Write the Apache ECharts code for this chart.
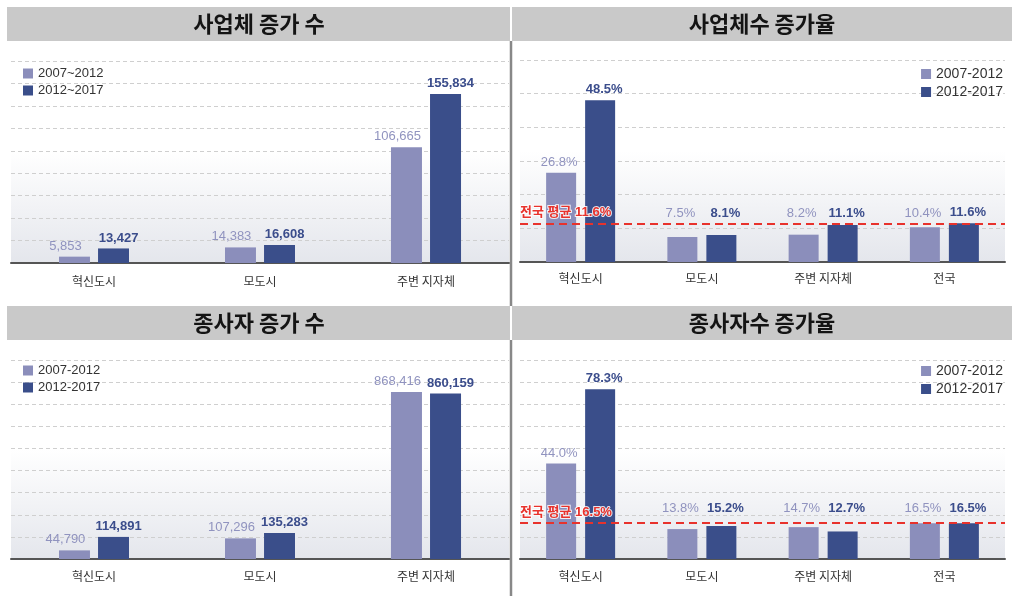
<!DOCTYPE html>
<html>
<head>
<meta charset="utf-8">
<script src="https://cdn.jsdelivr.net/npm/echarts@6/dist/echarts.min.js"></script>
<style>
  html, body { margin: 0; padding: 0; background: #fff; }
  #chart { width: 1012px; height: 596px; }
</style>
</head>
<body>
<div id="chart"></div>
<script>
// Categories
const regions3 = ['혁신도시', '모도시', '주변 지자체'];
const regions4 = ['혁신도시', '모도시', '주변 지자체', '전국'];

// Period names (first panel uses a tilde, the others a hyphen)
const periodsTilde = ['2007~2012', '2012~2017'];
const periodsDash = ['2007-2012', '2012-2017'];

// Panel titles
const panelTitles = ['사업체 증가 수', '사업체수 증가율', '종사자 증가 수', '종사자수 증가율'];

// Business counts: increase
const bizCount0712 = [5853, 14383, 106665];
const bizCount1217 = [13427, 16608, 155834];
// Business counts: growth rate (%)
const bizRate0712 = [26.8, 7.5, 8.2, 10.4];
const bizRate1217 = [48.5, 8.1, 11.1, 11.6];
// Employees: increase
const empCount0712 = [44790, 107296, 868416];
const empCount1217 = [114891, 135283, 860159];
// Employees: growth rate (%)
const empRate0712 = [44.0, 13.8, 14.7, 16.5];
const empRate1217 = [78.3, 15.2, 12.7, 16.5];

// National average = the 전국 value of the latest period
const bizAvg = bizRate1217[3];
const empAvg = empRate1217[3];

const LIGHT = '#8b8ebb';
const DARK = '#3a4e8a';
const RED = '#e8322c';
const FONT = "'Liberation Sans', 'Noto Sans CJK KR', sans-serif";
const KFONT = "'Noto Sans CJK KR', sans-serif";

const chart = echarts.init(document.getElementById('chart'), null, { renderer: 'canvas' });

// grid geometry
const grids = [
  { left: 11, top: 61, width: 498, height: 202 },
  { left: 520, top: 60, width: 485, height: 202 },
  { left: 11, top: 360, width: 498, height: 199 },
  { left: 520, top: 360, width: 485, height: 199 }
];
const axisMax = [186300, 60.6, 1035000, 91.8];
const axisStep = [20700, 10.1, 115000, 10.2];

const plotBg = new echarts.graphic.LinearGradient(0, 0, 0, 1, [
  { offset: 0, color: '#ffffff' },
  { offset: 0.45, color: '#ffffff' },
  { offset: 1, color: '#e4e6ec' }
]);

const fmtCount = v => v.toLocaleString('en-US');
const fmtPct = v => v.toFixed(1) + '%';

// Labels of short bars sit no lower than a common baseline level
function withLabelFloor(values, gi, floor) {
  const ppu = grids[gi].height / axisMax[gi];
  return values.map(v => ({
    value: v,
    label: { distance: floor == null ? 4 : Math.max(4, (floor - v) * ppu) }
  }));
}

function barSeries(name, gi, values, dark, fmt, floor) {
  const isCount = gi % 2 === 0;
  // paired labels are pushed apart so neighbouring numbers do not touch
  const shift = isCount ? (dark ? 5 : -9) : (dark ? 4 : -2);
  return {
    type: 'bar',
    name: name,
    xAxisIndex: gi,
    yAxisIndex: gi,
    barWidth: isCount ? 31 : 30,
    barGap: isCount ? '26%' : '30%',
    data: withLabelFloor(values, gi, floor),
    itemStyle: { color: dark ? DARK : LIGHT },
    label: {
      show: true,
      position: 'top',
      offset: [shift, 0],
      formatter: p => fmt(p.value),
      fontFamily: FONT,
      fontSize: 13,
      fontWeight: dark ? 'bold' : 'normal',
      color: dark ? '#3b4d8c' : '#9093bf'
    },
    emphasis: { disabled: true }
  };
}

function avgLine(value) {
  return {
    silent: true,
    symbol: 'none',
    data: [{ yAxis: value }],
    lineStyle: { color: RED, type: [8, 5], width: 2 },
    label: {
      show: true,
      position: 'insideStartTop',
      distance: [0, 4],
      formatter: '전국 평균 ' + fmtPct(value),
      fontFamily: FONT,
      fontSize: 13,
      fontWeight: 'bold',
      color: RED,
      textBorderColor: 'rgba(255,255,255,0.85)',
      textBorderWidth: 2
    }
  };
}

const xAxes = [regions3, regions4, regions3, regions4].map((cats, i) => ({
  type: 'category',
  gridIndex: i,
  data: cats,
  axisLine: { lineStyle: { color: '#555', width: 2 } },
  axisTick: { show: false },
  axisLabel: {
    color: '#333',
    fontFamily: KFONT,
    fontSize: 12,
    margin: [12, 10, 11, 11][i]
  }
}));

const yAxes = grids.map((g, i) => ({
  type: 'value',
  gridIndex: i,
  min: 0,
  max: axisMax[i],
  interval: axisStep[i],
  axisLine: { show: false },
  axisTick: { show: false },
  axisLabel: { show: false },
  splitLine: { show: true, lineStyle: { color: '#cfcfcf', type: [4, 3], width: 1 } }
}));

function legend(pos, names, size) {
  return Object.assign({
    orient: 'vertical',
    padding: 0,
    itemWidth: 10,
    itemHeight: 10,
    itemGap: 4,
    icon: 'rect',
    selectedMode: false,
    data: names,
    textStyle: { color: '#333', fontFamily: FONT, fontSize: size }
  }, pos);
}

const s1 = barSeries(periodsDash[1], 1, bizRate1217, true, fmtPct, 12.7);
s1.markLine = avgLine(bizAvg);
const s3 = barSeries(periodsDash[1], 3, empRate1217, true, fmtPct, 20.3);
s3.markLine = avgLine(empAvg);

const option = {
  animation: false,
  backgroundColor: '#ffffff',
  grid: grids.map(g => Object.assign({ show: true, borderWidth: 0, backgroundColor: plotBg }, g)),
  xAxis: xAxes,
  yAxis: yAxes,
  legend: [
    legend({ left: 23, top: 67 }, periodsTilde, 13),
    legend({ right: 9, top: 67 }, periodsDash, 14),
    legend({ left: 23, top: 364 }, periodsDash, 13),
    legend({ right: 9, top: 364 }, periodsDash, 14)
  ],
  series: [
    barSeries(periodsTilde[0], 0, bizCount0712, false, fmtCount, null),
    barSeries(periodsTilde[1], 0, bizCount1217, true, fmtCount, null),
    barSeries(periodsDash[0], 1, bizRate0712, false, fmtPct, 12.7),
    s1,
    barSeries(periodsDash[0], 2, empCount0712, false, fmtCount, null),
    barSeries(periodsDash[1], 2, empCount1217, true, fmtCount, null),
    barSeries(periodsDash[0], 3, empRate0712, false, fmtPct, 20.3),
    s3
  ],
  graphic: [
    // title bars
    { type: 'rect', shape: { x: 7, y: 7, width: 503, height: 34 }, style: { fill: '#c9c9c9' }, silent: true },
    { type: 'rect', shape: { x: 512, y: 7, width: 500, height: 34 }, style: { fill: '#c9c9c9' }, silent: true },
    { type: 'rect', shape: { x: 7, y: 306, width: 503, height: 34 }, style: { fill: '#c9c9c9' }, silent: true },
    { type: 'rect', shape: { x: 512, y: 306, width: 500, height: 34 }, style: { fill: '#c9c9c9' }, silent: true },
    // panel divider
    { type: 'line', shape: { x1: 511, y1: 41, x2: 511, y2: 306 }, style: { stroke: '#888888', lineWidth: 2.5 }, silent: true },
    { type: 'line', shape: { x1: 511, y1: 340, x2: 511, y2: 596 }, style: { stroke: '#888888', lineWidth: 2.5 }, silent: true },
    // titles
    ...panelTitles.map((t, i) => ({
      type: 'text',
      x: i % 2 === 0 ? 259 : 762,
      y: i < 2 ? 24 : 323,
      silent: true,
      style: {
        text: t,
        align: 'center',
        verticalAlign: 'middle',
        font: "bold 22px 'Noto Sans CJK KR', sans-serif",
        fill: '#141414'
      }
    }))
  ]
};

chart.setOption(option);
</script>
</body>
</html>
